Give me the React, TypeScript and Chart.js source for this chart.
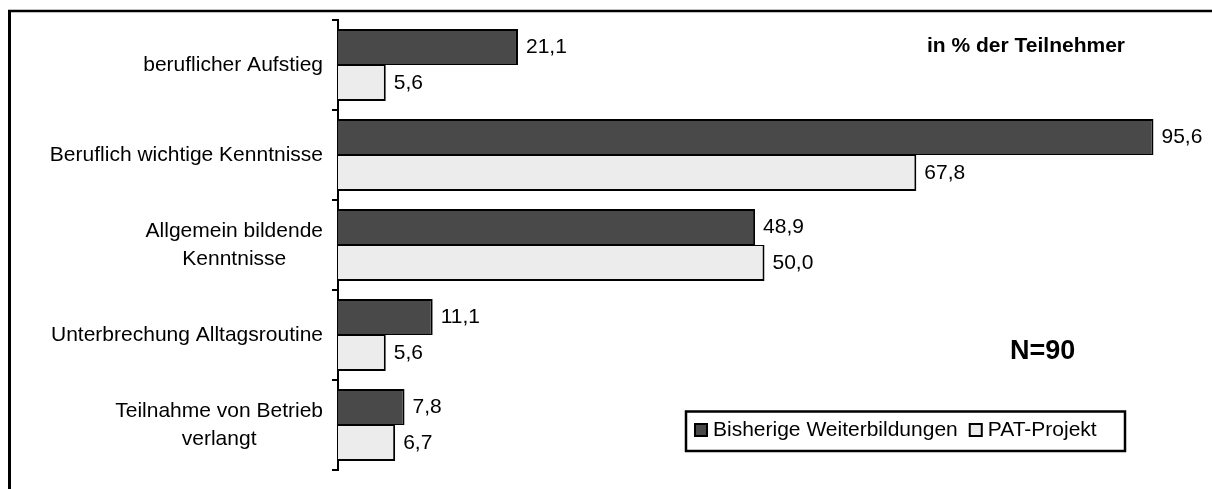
import React, { useEffect, useRef } from "react";
import { Chart, registerables } from "chart.js";

Chart.register(...registerables);

const categories: string[][] = [
  ["beruflicher Aufstieg"],
  ["Beruflich wichtige Kenntnisse"],
  ["Allgemein bildende", "Kenntnisse"],
  ["Unterbrechung Alltagsroutine"],
  ["Teilnahme von Betrieb", "verlangt"],
];
const seriesNames = ["Bisherige Weiterbildungen", "PAT-Projekt"];
const bisherige = [21.1, 95.6, 48.9, 11.1, 7.8];
const patProjekt = [5.6, 67.8, 50.0, 5.6, 6.7];
const subtitleText = "in % der Teilnehmer";
const sampleText = "N=90";

const DARK = "#494949";
const LIGHT = "#ececec";
const FONT = "'Liberation Sans', Arial, sans-serif";

const fmt = (v: number) => v.toFixed(1).replace(".", ",");

const customPlugin = {
  id: "customDraw",
  beforeDraw(chart: any) {
    const ctx = chart.ctx;
    ctx.save();
    ctx.fillStyle = "#ffffff";
    ctx.fillRect(0, 0, chart.width, chart.height);
    ctx.strokeStyle = "#000";
    ctx.lineWidth = 3;
    ctx.beginPath();
    ctx.moveTo(9.5, 10);
    ctx.lineTo(9.5, chart.height);
    ctx.stroke();
    ctx.lineWidth = 2.5;
    ctx.beginPath();
    ctx.moveTo(8, 11);
    ctx.lineTo(chart.width, 11);
    ctx.stroke();
    ctx.restore();
  },
  afterDraw(chart: any) {
    const ctx = chart.ctx;
    const yScale = chart.scales.y;
    ctx.save();
    ctx.fillStyle = "#000";
    // category labels: block right-aligned, lines centered
    ctx.font = `21px ${FONT}`;
    ctx.textBaseline = "middle";
    ctx.textAlign = "center";
    const rightEdge = yScale.right - 15;
    const lineH = 28;
    categories.forEach((lines, i) => {
      const yc = yScale.getPixelForTick(i);
      const maxW = Math.max(...lines.map((l) => ctx.measureText(l).width));
      const cx = rightEdge - maxW / 2;
      const y0 = yc - ((lines.length - 1) * lineH) / 2;
      lines.forEach((l, j) => ctx.fillText(l, cx, y0 + j * lineH));
    });
    // value labels
    ctx.textAlign = "left";
    chart.data.datasets.forEach((ds: any, di: number) => {
      const meta = chart.getDatasetMeta(di);
      meta.data.forEach((el: any, i: number) => {
        ctx.fillText(fmt(ds.data[i]), el.x + 8, el.y);
      });
    });
    // annotations
    ctx.font = `bold 21px ${FONT}`;
    ctx.fillText(subtitleText, 927, 46);
    ctx.font = `bold 27px ${FONT}`;
    ctx.fillText(sampleText, 1010, 352);
    // legend
    const bx = 686, by = 411.5, bw = 439, bh = 39.5;
    ctx.strokeStyle = "#000";
    ctx.lineWidth = 2.5;
    ctx.strokeRect(bx, by, bw, bh);
    ctx.font = `21px ${FONT}`;
    let x = 694;
    const cy = 430;
    chart.data.datasets.forEach((ds: any, di: number) => {
      ctx.fillStyle = ds.backgroundColor;
      ctx.fillRect(x, cy - 7, 14, 14);
      ctx.lineWidth = 2;
      ctx.strokeRect(x + 1, cy - 6, 12, 12);
      ctx.fillStyle = "#000";
      ctx.fillText(ds.label, x + 19, cy);
      x += 19 + ctx.measureText(ds.label).width + 11;
    });
    ctx.restore();
  },
};

export default function App() {
  const ref = useRef<HTMLCanvasElement | null>(null);
  useEffect(() => {
    if (!ref.current) return;
    const chart = new Chart(ref.current, {
      type: "bar",
      data: {
        labels: categories.map((c) => c.join(" ")),
        datasets: [
          {
            label: seriesNames[0],
            data: bisherige,
            backgroundColor: DARK,
            borderColor: "#000",
            borderWidth: { top: 2, right: 2, bottom: 1, left: 0 },
            borderSkipped: false,
            categoryPercentage: 0.8,
            barPercentage: 1.0,
          },
          {
            label: seriesNames[1],
            data: patProjekt,
            backgroundColor: LIGHT,
            borderColor: "#000",
            borderWidth: { top: 1, right: 2, bottom: 2, left: 0 },
            borderSkipped: false,
            categoryPercentage: 0.8,
            barPercentage: 1.0,
          },
        ],
      },
      options: {
        indexAxis: "y",
        animation: false,
        responsive: false,
        devicePixelRatio: 1,
        layout: { padding: { top: 20, bottom: 19, left: 0, right: 21 } },
        plugins: {
          legend: { display: false },
          tooltip: { enabled: false },
          title: { display: false },
        },
        scales: {
          x: {
            display: false,
            min: 0,
            max: 100,
          },
          y: {
            afterFit(scale: any) {
              scale.width = 338;
            },
            ticks: { display: false },
            grid: {
              offset: true,
              drawOnChartArea: false,
              drawTicks: true,
              tickLength: 6,
              color: "#000",
              lineWidth: 2,
            },
            border: { display: true, color: "#000", width: 2 },
          },
        },
      },
      plugins: [customPlugin],
    } as any);
    return () => chart.destroy();
  }, []);
  return (
    <canvas
      ref={ref}
      width={1212}
      height={489}
      style={{ position: "fixed", top: 0, left: 0, width: 1212, height: 489 }}
    />
  );
}
